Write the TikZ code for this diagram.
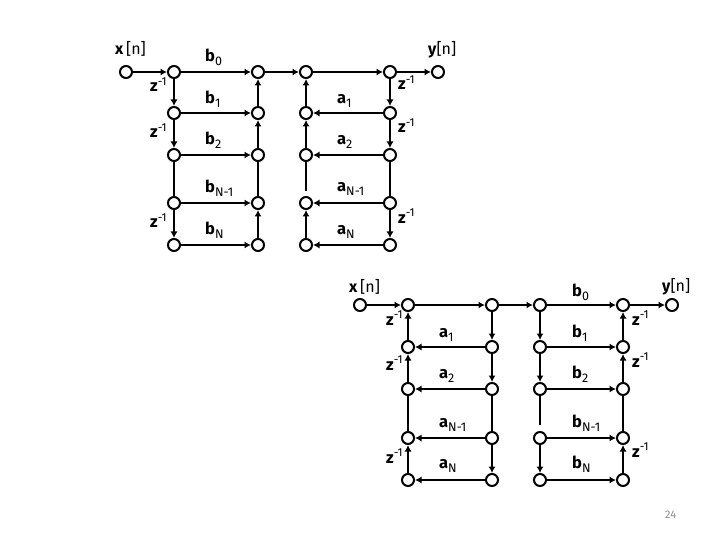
\documentclass[tikz,border=0pt]{standalone}
\usepackage{fontspec}
\setmainfont{Fira Sans}
\usetikzlibrary{arrows.meta}
\definecolor{PageNum}{HTML}{8C8C8C}
\tikzset{
  sig/.style={circle,draw=black,fill=white,line width=2pt,minimum size=12pt,inner sep=0pt},
  wire/.style={black,line width=1.9pt},
  flow/.style={wire,-{Latex[length=6.5pt,width=7pt]}},
  lab/.style={inner sep=0pt,anchor=base west,font=\fontsize{16.5}{16.5}\selectfont\bfseries},
  zlab/.style={inner sep=0pt,anchor=base west,font=\fontsize{16.5}{16.5}\selectfont\bfseries},
  port/.style={inner sep=0pt,anchor=base west,font=\fontsize{16}{16}\selectfont}
}
\newcommand{\delay}{z\textsuperscript{\mdseries-1}}
\newcommand{\coef}[2]{#1\raisebox{-4pt}{\fontsize{12.5}{12.5}\selectfont\mdseries #2}}
\begin{document}
\begin{tikzpicture}[x=1pt,y=-1pt]
  \useasboundingbox (0,0) rectangle (720,540);
  % first structure
  \node[sig] (xa) at (126,72) {};
  \node[sig] (ya) at (438,72) {};
  \foreach \c/\x in {p/174,q/258,r/306,s/390}{
    \foreach \r/\y in {0/72,1/113,2/155,3/203,4/245}{
      \node[sig] (a\c\r) at (\x,\y) {};}}
  % gap above the third column's node
  \coordinate (astop) at (306,191);
  \draw[flow] (xa)--(ap0);
  \draw[flow] (ap0)--(aq0);
  \draw[flow] (aq0)--(ar0);
  \draw[flow] (ar0)--(as0);
  \draw[flow] (as0)--(ya);
  \foreach \r in {1,2,3,4}{
    \draw[flow] (ap\r)--(aq\r);
    \draw[flow] (as\r)--(ar\r);}
  \foreach \c in {p,s}{
    \draw[flow] (a\c0)--(a\c1);
    \draw[flow] (a\c1)--(a\c2);
    \draw[wire] (a\c2)--(a\c3);
    \draw[flow] (a\c3)--(a\c4);}
  \foreach \c in {q,r}{
    \draw[flow] (a\c1)--(a\c0);
    \draw[flow] (a\c2)--(a\c1);
    \draw[flow] (a\c4)--(a\c3);}
  \draw[wire] (aq3)--(aq2);
  \draw[wire] (ar2)--(astop);
  % labels
  \node[port] (xalab) at (115,55) {\textbf{x}\,[n]};
  \node[port] (yalab) at (428,55) {\textbf{y}[n]};
  \foreach \t/\x/\y/\a/\b in {b0/205/62/b/0,b1/205/104/b/1,b2/205/145/b/2,
      bn/205/193/b/N-1,bm/205/235/b/N,a1/337/104/a/1,a2/337/145/a/2,
      an/337/192/a/N-1,am/337/235/a/N}{
    \node[lab] (a\t) at (\x,\y) {\coef{\a}{\b}};}
  \foreach \t/\x/\y in {d1/150/92,d2/150/138,d3/150/228,e1/398/90,e2/398/133,e3/398/223}{
    \node[zlab] (a\t) at (\x,\y) {\delay};}
  % second structure
  \node[sig] (xb) at (360,305) {};
  \node[sig] (yb) at (672,305) {};
  \foreach \c/\x in {p/408,q/492,r/540,s/623}{
    \foreach \r/\y in {0/305,1/347,2/389,3/438,4/480}{
      \node[sig] (b\c\r) at (\x,\y) {};}}
  \coordinate (bstop) at (540,425);
  \draw[flow] (xb)--(bp0);
  \draw[flow] (bp0)--(bq0);
  \draw[flow] (bq0)--(br0);
  \draw[flow] (br0)--(bs0);
  \draw[flow] (bs0)--(yb);
  \foreach \r in {1,2,3,4}{
    \draw[flow] (bq\r)--(bp\r);
    \draw[flow] (br\r)--(bs\r);}
  \foreach \c in {p,s}{
    \draw[flow] (b\c1)--(b\c0);
    \draw[flow] (b\c2)--(b\c1);
    \draw[wire] (b\c2)--(b\c3);
    \draw[flow] (b\c4)--(b\c3);}
  \foreach \c in {q,r}{
    \draw[flow] (b\c0)--(b\c1);
    \draw[flow] (b\c1)--(b\c2);
    \draw[flow] (b\c3)--(b\c4);}
  \draw[wire] (bq2)--(bq3);
  \draw[wire] (br2)--(bstop);
  \node[port] (xblab) at (349,292) {\textbf{x}\,[n]};
  \node[port] (yblab) at (662,291) {\textbf{y}[n]};
  \foreach \t/\x/\y/\a/\b in {a1/439/337/a/1,a2/439/378/a/2,an/439/427/a/N-1,am/439/468/a/N,
      b0/572/296/b/0,b1/572/337/b/1,b2/572/378/b/2,bn/572/427/b/N-1,bm/572/468/b/N}{
    \node[lab] (b\t) at (\x,\y) {\coef{\a}{\b}};}
  \foreach \t/\x/\y in {d1/386/325,d2/386/370,d3/386/463,e1/632/325,e2/632/367,e3/632/457}{
    \node[zlab] (b\t) at (\x,\y) {\delay};}
  \node[text=PageNum,inner sep=0pt,anchor=base west,font=\fontsize{11}{11}\selectfont] (pagenum) at (665,518) {24};
\end{tikzpicture}
\end{document}
